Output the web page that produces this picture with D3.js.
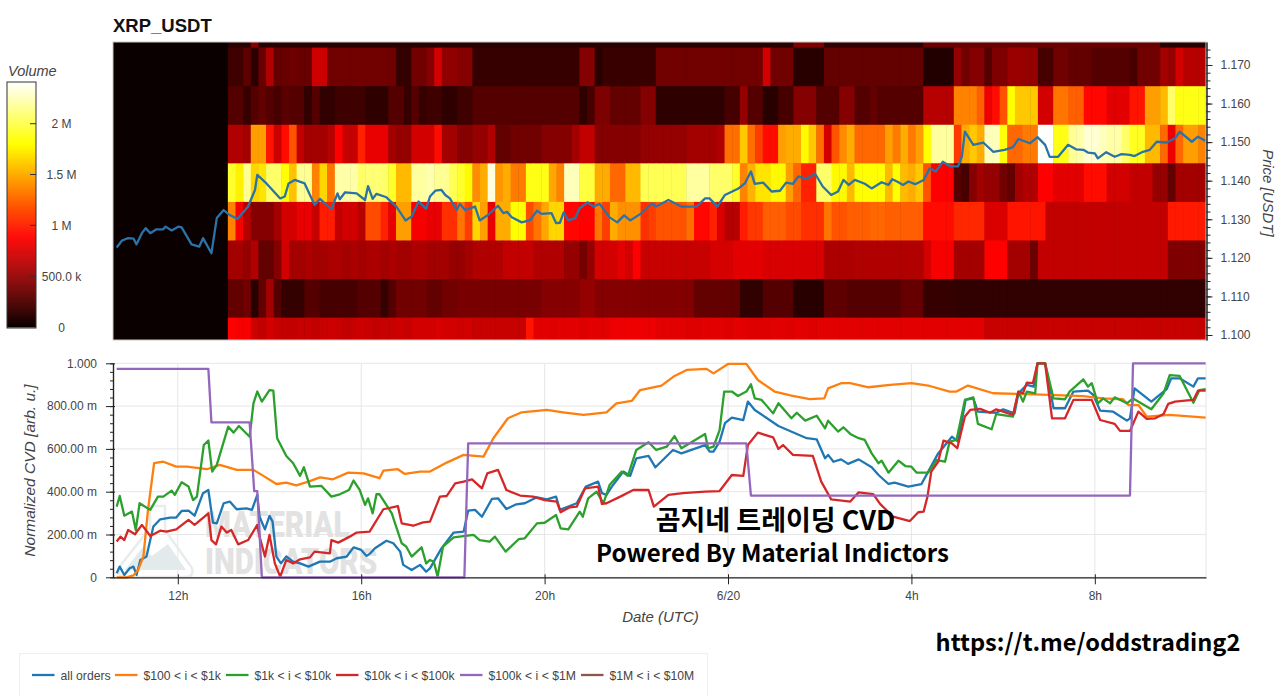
<!DOCTYPE html>
<html>
<head>
<meta charset="utf-8">
<title>XRP_USDT CVD</title>
<script src="https://cdn.jsdelivr.net/npm/d3@7"></script>
<style>
  html, body { margin: 0; padding: 0; background: #fff; overflow: hidden; }
  text { font-family: "Liberation Sans", Arial, sans-serif; }
</style>
</head>
<body>
<svg id="chart" width="1280" height="696"></svg>
<script>
// Series samples are [minutes after 6/19 10:40 UTC, value].
const priceLine = [[0,1.1227],[7,1.1245],[15,1.1251],[22,1.125],[26,1.1235],[33,1.1264],[38,1.1277],[44,1.1264],[52,1.1274],[61,1.1274],[64,1.1281],[72,1.1271],[81,1.1281],[85,1.1279],[98,1.1235],[108,1.1229],[113,1.1251],[124,1.1212],[131,1.1303],[140,1.1324],[148,1.1311],[158,1.1301],[172,1.1333],[181,1.1376],[184,1.1415],[196,1.1393],[214,1.1354],[220,1.1359],[225,1.1393],[233,1.1402],[246,1.1393],[259,1.1337],[266,1.1353],[281,1.1326],[289,1.1367],[292,1.1352],[299,1.137],[314,1.1367],[325,1.135],[329,1.1386],[335,1.1353],[340,1.1366],[353,1.1357],[366,1.1333],[378,1.1297],[386,1.1307],[395,1.1346],[405,1.1327],[410,1.1359],[417,1.1374],[425,1.1376],[430,1.1363],[436,1.1354],[445,1.1324],[449,1.134],[456,1.1324],[469,1.1333],[475,1.1297],[486,1.1311],[499,1.1335],[506,1.1316],[511,1.1319],[517,1.1305],[530,1.1292],[541,1.1298],[550,1.1322],[556,1.1314],[569,1.1316],[575,1.129],[580,1.1291],[585,1.1318],[591,1.1297],[600,1.1303],[606,1.1329],[616,1.1344],[624,1.1333],[632,1.134],[645,1.1305],[655,1.1292],[664,1.131],[672,1.1297],[687,1.1316],[700,1.1341],[706,1.1333],[722,1.135],[739,1.1333],[759,1.1333],[770,1.1354],[776,1.1354],[786,1.1333],[796,1.1363],[813,1.1379],[822,1.1393],[830,1.1424],[835,1.1392],[846,1.1395],[857,1.1372],[868,1.1374],[876,1.1395],[885,1.1392],[892,1.1411],[903,1.1405],[914,1.1418],[924,1.1385],[935,1.1363],[944,1.1372],[951,1.1402],[958,1.1389],[966,1.1402],[979,1.1392],[988,1.138],[1001,1.1396],[1010,1.1389],[1015,1.1404],[1023,1.1396],[1029,1.1389],[1036,1.1398],[1045,1.1391],[1056,1.1402],[1064,1.1432],[1072,1.1424],[1081,1.1449],[1090,1.1438],[1101,1.1437],[1106,1.1462],[1110,1.1527],[1121,1.1493],[1134,1.1499],[1147,1.1475],[1162,1.148],[1173,1.1487],[1180,1.1508],[1195,1.1497],[1205,1.1513],[1215,1.1493],[1221,1.1462],[1232,1.1462],[1245,1.1493],[1256,1.1481],[1265,1.148],[1271,1.1473],[1280,1.1471],[1284,1.1458],[1295,1.1474],[1306,1.1462],[1315,1.1469],[1326,1.1467],[1332,1.1464],[1343,1.1475],[1352,1.148],[1361,1.1501],[1374,1.1499],[1385,1.151],[1391,1.1527],[1407,1.1501],[1415,1.1514],[1425,1.1503]];

const allOrders = [[0,.019],[4,.05],[10,.011],[17,.042],[22,.05],[26,.011],[31,.081],[39,.097],[48,.237],[57,.271],[70,.279],[78,.279],[85,.31],[94,.312],[102,.288],[113,.393],[120,.408],[126,.255],[131,.252],[140,.346],[148,.354],[157,.318],[170,.322],[177,.315],[184,.385],[187,.283],[194,.224],[200,.287],[204,.26],[209,.097],[215,.065],[222,.097],[231,.073],[240,.065],[251,.05],[266,.073],[279,.073],[288,.089],[301,.097],[310,.14],[320,.128],[327,.1],[331,.109],[338,.136],[353,.171],[362,.159],[371,.12],[375,.058],[386,.034],[397,.058],[405,.026],[410,.042],[425,.135],[441,.209],[454,.213],[460,.312],[469,.315],[478,.283],[491,.366],[499,.369],[510,.319],[523,.341],[534,.346],[550,.374],[563,.364],[575,.377],[580,.315],[602,.346],[614,.424],[630,.447],[635,.393],[641,.385],[648,.424],[663,.494],[672,.474],[680,.556],[696,.567],[705,.514],[728,.595],[739,.579],[770,.618],[776,.587],[781,.587],[789,.634],[796,.72],[805,.746],[820,.735],[826,.821],[835,.782],[866,.707],[903,.65],[916,.645],[927,.556],[931,.572],[938,.54],[948,.551],[957,.53],[971,.551],[988,.514],[997,.478],[1010,.436],[1018,.442],[1036,.424],[1053,.435],[1062,.494],[1075,.579],[1093,.657],[1101,.634],[1111,.829],[1121,.836],[1127,.774],[1151,.769],[1160,.785],[1175,.766],[1180,.86],[1191,.899],[1200,.891],[1205,1],[1215,1],[1226,.79],[1241,.79],[1252,.868],[1271,.872],[1278,.852],[1287,.779],[1304,.774],[1322,.732],[1326,.743],[1332,.883],[1354,.821],[1374,.879],[1380,.93],[1391,.93],[1409,.891],[1415,.93],[1425,.93]];

const band100to1k = [[0,0],[13,0],[22,.009],[28,.034],[35,.097],[41,.315],[49,.533],[61,.54],[78,.517],[92,.517],[118,.505],[135,.525],[157,.502],[179,.502],[192,.474],[209,.436],[222,.442],[235,.43],[251,.447],[266,.467],[283,.458],[303,.489],[323,.486],[344,.463],[349,.498],[368,.505],[377,.483],[397,.494],[410,.494],[432,.536],[454,.572],[480,.564],[493,.65],[512,.743],[530,.771],[563,.782],[584,.771],[611,.759],[641,.771],[654,.813],[674,.824],[685,.875],[713,.896],[730,.941],[746,.969],[772,.974],[781,.953],[800,.997],[824,.997],[839,.922],[861,.868],[883,.849],[907,.833],[926,.836],[931,.883],[948,.907],[960,.907],[984,.888],[1012,.899],[1040,.907],[1064,.894],[1090,.868],[1099,.868],[1114,.896],[1147,.86],[1178,.857],[1221,.852],[1265,.847],[1291,.836],[1317,.832],[1324,.805],[1337,.805],[1348,.751],[1378,.759],[1425,.746]];

const band1kto10k = [[0,.33],[4,.38],[10,.288],[20,.307],[25,.221],[30,.346],[44,.315],[54,.377],[61,.377],[72,.405],[76,.385],[85,.444],[94,.424],[100,.361],[105,.377],[114,.618],[120,.639],[125,.494],[131,.525],[146,.704],[153,.676],[160,.707],[174,.657],[179,.813],[184,.868],[190,.821],[200,.875],[205,.872],[210,.65],[222,.567],[231,.533],[240,.474],[245,.514],[253,.424],[268,.427],[281,.377],[292,.388],[304,.408],[310,.452],[318,.408],[325,.338],[329,.369],[335,.299],[340,.388],[344,.388],[360,.299],[373,.159],[379,.143],[386,.097],[399,.14],[405,.065],[410,.081],[415,.073],[420,.003],[427,.143],[441,.187],[467,.198],[475,.174],[488,.167],[495,.19],[509,.12],[526,.178],[534,.182],[550,.252],[560,.255],[575,.291],[581,.229],[591,.224],[606,.307],[610,.283],[617,.369],[628,.4],[637,.346],[645,.431],[661,.494],[669,.474],[680,.595],[696,.631],[706,.595],[720,.611],[730,.66],[739,.603],[750,.626],[770,.67],[774,.603],[781,.611],[789,.688],[795,.868],[805,.868],[813,.847],[824,.868],[830,.902],[835,.836],[844,.829],[859,.766],[866,.813],[883,.743],[890,.769],[901,.732],[916,.755],[927,.696],[931,.732],[944,.681],[951,.701],[960,.67],[971,.65],[979,.642],[988,.579],[997,.533],[1001,.545],[1010,.489],[1023,.545],[1032,.52],[1040,.517],[1047,.489],[1062,.489],[1073,.548],[1084,.54],[1090,.634],[1099,.642],[1110,.829],[1121,.841],[1127,.717],[1145,.692],[1151,.763],[1173,.751],[1180,.868],[1186,.821],[1191,.868],[1202,.86],[1205,1],[1215,1],[1226,.836],[1241,.832],[1247,.868],[1265,.925],[1271,.891],[1276,.907],[1284,.813],[1291,.836],[1300,.813],[1306,.841],[1322,.813],[1330,.836],[1354,.785],[1370,.86],[1378,.945],[1391,.941],[1409,.816],[1417,.875],[1425,.879]];

const band10kto100k = [[0,.167],[5,.19],[10,.174],[15,.221],[24,.201],[33,.245],[44,.193],[57,.218],[65,.213],[78,.224],[94,.268],[102,.245],[120,.299],[124,.174],[130,.154],[137,.237],[144,.209],[150,.221],[159,.154],[172,.174],[184,.245],[187,.19],[194,.097],[200,.198],[207,.065],[214,.003],[222,.081],[231,.065],[240,.084],[253,.093],[259,.12],[279,.112],[281,.174],[290,.162],[305,.19],[314,.209],[331,.213],[349,.318],[368,.333],[373,.252],[388,.241],[401,.257],[410,.26],[423,.377],[432,.38],[443,.439],[454,.447],[465,.458],[478,.416],[485,.486],[499,.502],[510,.408],[528,.382],[545,.377],[560,.361],[576,.354],[581,.304],[593,.327],[602,.33],[613,.416],[630,.424],[635,.343],[641,.346],[659,.377],[676,.408],[696,.408],[703,.33],[722,.385],[741,.393],[770,.4],[789,.403],[805,.478],[820,.474],[826,.618],[839,.676],[859,.654],[866,.6],[872,.618],[885,.572],[911,.567],[922,.447],[935,.364],[960,.354],[971,.397],[990,.389],[999,.343],[1016,.283],[1038,.263],[1049,.304],[1056,.307],[1061,.377],[1066,.494],[1075,.54],[1082,.639],[1093,.626],[1100,.603],[1110,.751],[1117,.782],[1130,.787],[1143,.769],[1151,.785],[1173,.759],[1180,.868],[1186,.86],[1191,.91],[1199,.907],[1205,1],[1215,1],[1224,.743],[1241,.743],[1252,.829],[1276,.829],[1287,.735],[1306,.717],[1313,.684],[1326,.684],[1337,.774],[1348,.74],[1359,.743],[1370,.763],[1376,.81],[1385,.821],[1398,.826],[1409,.829],[1415,.872],[1425,.872]];

const band100kto1M = [[0,.974],[120,.974],[124,.724],[174,.724],[180,.403],[184,.403],[190,0],[455,0],[460,.626],[824,.626],[830,.382],[1326,.382],[1330,1],[1425,1]];

const band1Mto10M = [];

const seriesNames = ["all orders", "$100 < i < $1k", "$1k < i < $10k", "$10k < i < $100k", "$100k < i < $1M", "$1M < i < $10M"];
const seriesColors = ["#1f77b4", "#ff7f0e", "#2ca02c", "#d62728", "#9467bd", "#8c564b"];
const seriesData = [allOrders, band100to1k, band1kto10k, band10kto100k, band100kto1M, band1Mto10M];

// Volume per price band, in tens of thousands, one entry per 10-minute bucket.
const priceBands = [1.18, 1.17, 1.16, 1.15, 1.14, 1.13, 1.12, 1.11, 1.10];
const heatBand118 = [12,12,12,44,12,12,12,12,12,12,12,12,12,12,12,12,12,12,12,12,12,12,12,12,12,12,12,12,12,12,12,12,12,12,12,12,12,12,12,12,12,12,12,12,12,12,12,12,12,12,12,12,12,12,12,12,12,12,12,12,12,12,12,12,12,12,12,12,12,12,12,12,12,12,42,42,42,42,14,14,14,14,14,14,14,14,14,14,14,14,14,35,35,35,35,35,35,35,35,35,35,35,35,35,35,35,35,35,35,35,35,35,35,35,35,35,35,35,35,35,35,35,12,12,12,12,12,12];
const heatBand117 = [19,19,30,12,35,60,32,34,36,34,34,70,70,37,37,37,37,37,37,37,37,37,15,15,37,37,44,72,48,48,44,44,16,16,16,16,16,16,16,16,16,16,16,16,16,16,44,44,11,17,17,17,17,17,17,17,37,37,37,37,37,37,37,37,37,37,37,37,37,37,72,37,37,37,11,11,11,11,32,32,32,32,32,32,32,32,32,32,32,32,32,9,9,9,9,50,37,44,44,27,42,42,52,52,50,50,22,22,37,37,32,32,32,27,27,27,27,27,22,37,37,37,55,50,72,62,62,62];
const heatBand116 = [27,27,16,27,32,27,22,29,27,27,14,27,14,14,19,19,19,19,13,13,13,27,27,16,27,16,19,19,13,13,19,19,27,27,27,27,27,27,27,27,27,27,27,27,27,27,13,22,42,42,32,32,32,32,44,44,13,13,13,13,13,13,13,13,13,22,22,50,27,27,11,11,22,22,44,44,44,27,27,27,44,44,27,27,32,27,27,27,27,27,27,62,62,62,62,135,135,135,122,82,92,118,180,160,160,160,72,72,130,130,122,122,90,90,90,78,78,78,95,95,145,145,155,205,185,185,185,185];
const heatBand115 = [60,60,55,145,145,95,70,92,118,66,55,55,55,62,88,68,68,100,80,80,80,55,50,50,72,72,72,92,55,55,44,44,50,50,60,32,32,37,37,37,37,44,44,44,44,55,66,66,44,44,44,44,44,44,50,50,50,50,50,50,55,55,55,55,60,128,128,160,128,110,92,92,145,150,150,178,160,128,72,118,138,150,125,125,125,125,145,132,150,132,145,180,218,218,218,108,150,160,150,225,225,182,125,125,132,132,240,240,185,185,215,220,230,230,225,220,220,205,188,188,155,155,125,82,125,145,145,135];
const heatBand114 = [190,175,215,165,170,205,205,180,158,215,215,135,165,130,220,220,220,205,208,208,205,190,155,155,218,218,222,215,215,200,190,178,138,150,233,142,150,132,132,185,185,185,148,135,225,225,195,195,150,150,125,125,155,155,200,200,200,200,200,200,218,218,218,205,205,205,190,135,152,170,170,178,178,145,125,100,100,205,205,178,178,155,180,180,180,180,155,180,155,150,160,118,88,88,88,28,22,44,55,50,50,37,32,55,60,60,88,88,78,78,78,78,92,92,92,72,72,72,66,66,66,50,50,32,55,55,55,55];
const heatBand113 = [135,85,62,44,44,44,55,72,72,80,80,68,98,98,66,72,72,62,115,115,100,80,145,145,85,85,80,80,105,105,130,110,165,145,80,150,150,180,180,115,130,148,165,165,90,90,88,88,130,110,150,140,140,140,105,110,118,118,118,118,128,90,90,100,75,62,62,98,108,108,122,122,122,115,115,105,105,105,130,118,118,122,122,122,125,125,122,122,122,122,122,92,92,92,92,102,102,102,102,75,75,75,95,95,95,95,95,66,66,66,66,66,66,66,66,66,66,66,66,66,66,66,66,97,97,97,97,97];
const heatBand112 = [55,55,50,60,32,32,44,72,55,55,58,55,55,58,58,55,58,55,58,58,55,58,55,55,58,58,55,55,55,50,50,55,60,60,60,60,66,66,66,66,60,60,60,60,50,50,38,50,72,72,72,78,72,88,68,68,68,68,68,68,68,68,68,73,73,73,78,78,78,78,74,74,74,74,74,74,74,74,58,58,58,58,60,60,60,60,60,60,60,60,60,72,85,85,85,55,55,55,55,88,88,88,55,55,55,35,66,66,66,66,66,66,66,66,66,66,66,66,66,66,66,66,66,42,42,42,42,42];
const heatBand111 = [32,32,37,11,32,55,27,15,15,15,27,27,22,22,22,22,22,27,27,27,15,27,37,37,37,37,32,32,37,37,40,40,40,40,40,40,40,40,40,40,40,44,44,44,44,44,50,50,44,44,44,44,44,43,43,43,43,43,43,43,43,32,32,32,32,32,32,14,14,14,27,27,27,27,11,11,11,11,30,30,30,27,27,27,27,27,27,27,33,33,33,16,16,16,16,14,14,14,14,14,14,14,14,14,14,14,14,14,14,14,14,14,14,14,14,14,14,14,14,14,14,14,14,14,14,14,14,14];
const heatBand110 = [88,85,85,70,66,72,68,66,66,68,68,66,68,70,68,66,68,70,68,66,68,68,70,68,72,72,72,74,72,72,70,72,68,68,68,68,68,68,68,95,78,78,76,78,78,78,76,78,78,78,82,82,82,82,82,82,78,78,78,78,76,76,78,78,78,76,78,78,76,76,76,78,78,76,78,78,76,78,78,78,78,78,78,78,78,78,78,78,78,78,78,78,78,78,78,78,78,78,78,68,68,68,68,68,68,68,68,68,68,68,68,68,68,68,68,68,68,68,68,68,68,68,68,68,68,68,68,68];
const heatRows = [heatBand118, heatBand117, heatBand116, heatBand115, heatBand114, heatBand113, heatBand112, heatBand111, heatBand110];
const heatUnit = 10000;
const heatStartMinute = 145.5;
const heatStepMinutes = 10;

const priceTicks = [1.10, 1.11, 1.12, 1.13, 1.14, 1.15, 1.16, 1.17];
const priceLabels = ["1.100", "1.110", "1.120", "1.130", "1.140", "1.150", "1.160", "1.170"];
const cvdTicks = [0, .2, .4, .6, .8, 1];
const cvdLabels = ["0", "200.00 m", "400.00 m", "600.00 m", "800.00 m", "1.000"];
const timeTicksMinutes = [80, 320, 560, 800, 1040, 1280];
const timeLabels = ["12h", "16h", "20h", "6/20", "4h", "8h"];
const volumeTicks = [0, 500000, 1000000, 1500000, 2000000];
const volumeLabels = ["0", "500.0 k", "1 M", "1.5 M", "2 M"];

const svg = d3.select("#chart");
const INK = "#444";
const originUTC = Date.UTC(2025, 5, 19, 10, 40);
const toDate = m => new Date(originUTC + m * 60000);

const left = 113, right = 1206;
const x = d3.scaleUtc().domain([toDate(-4.8), toDate(1425.5)]).range([left, right]);
const yPrice = d3.scaleLinear().domain([1.0987, 1.17596]).range([340, 42]);
const yCvd = d3.scaleLinear().domain([0, 1]).range([577.3, 363.3]);

// Black through red and yellow to white, spanning the full volume range.
const volumeMax = 2410000;
const hot = d3.scaleLinear()
  .domain([0, .365 * volumeMax, .746 * volumeMax, volumeMax])
  .range(["#0a0000", "#ff0000", "#ffff00", "#ffffff"])
  .clamp(true);

// A band's label price sits half a mill above the middle of its cell.
const bandUpper = 0.0045, bandLower = 0.0055;

// ---- title ----
svg.append("text").attr("x", left).attr("y", 32)
  .attr("font-size", 18.5).attr("font-weight", "bold").attr("fill", "#111").text("XRP_USDT");

// ---- heatmap panel ----
const clip = svg.append("defs").append("clipPath").attr("id", "heat-clip");
clip.append("rect").attr("x", left).attr("y", 42).attr("width", right - left).attr("height", 298);
const heatPanel = svg.append("g").attr("clip-path", "url(#heat-clip)");
heatPanel.append("rect").attr("x", left).attr("y", 42).attr("width", right - left).attr("height", 298).attr("fill", hot(0));

heatRows.forEach((row, r) => {
  const yTop = yPrice(priceBands[r] + bandUpper);
  const yBottom = yPrice(priceBands[r] - bandLower);
  heatPanel.append("g").selectAll("rect").data(row).join("rect")
    .attr("x", (d, i) => x(toDate(heatStartMinute + i * heatStepMinutes)))
    .attr("width", (d, i) => x(toDate(heatStartMinute + (i + 1) * heatStepMinutes)) - x(toDate(heatStartMinute + i * heatStepMinutes)) + 0.5)
    .attr("y", yTop)
    .attr("height", yBottom - yTop + 0.5)
    .attr("fill", d => hot(d * heatUnit));
});

const lineOf = y => d3.line().x(d => x(toDate(d[0]))).y(d => y(d[1]));

heatPanel.append("path").datum(priceLine)
  .attr("d", lineOf(yPrice)).attr("fill", "none").attr("stroke", "#2a73a8")
  .attr("stroke-width", 2.3).attr("stroke-linejoin", "round");

svg.append("rect").attr("x", left).attr("y", 42).attr("width", right - left).attr("height", 298)
  .attr("fill", "none").attr("stroke", "#c8c8c8").attr("stroke-width", 1);

// price axis, on the right
const priceMinor = d3.range(1.1, 1.1755, 0.002);
const priceAxis = svg.append("g").attr("transform", `translate(${right + 0.5},0)`);
priceAxis.call(d3.axisRight(yPrice).tickValues(priceMinor).tickSize(4).tickSizeOuter(0).tickFormat(""));
priceAxis.append("g").call(d3.axisRight(yPrice).tickValues(priceTicks).tickSize(6).tickSizeOuter(0).tickPadding(8)
  .tickFormat((d, i) => priceLabels[i]));
priceAxis.selectAll("text").attr("font-size", 12).style("fill", INK).style("font-family", '"Liberation Sans"');
priceAxis.selectAll("line").attr("stroke", "#222");
priceAxis.selectAll(".domain").attr("stroke", "#222");

svg.append("text").attr("transform", "translate(1263,193) rotate(90)")
  .attr("text-anchor", "middle").attr("font-size", 15).attr("font-style", "italic").attr("fill", INK)
  .text("Price [USDT]");

// ---- colour bar ----
const barTop = 82, barBottom = 328, barLeft = 7, barRight = 36;
const yVolume = d3.scaleLinear().domain([0, volumeMax]).range([barBottom - 1, barTop]);
const barSteps = d3.range(0, volumeMax, volumeMax / 246);
svg.append("g").selectAll("rect").data(barSteps).join("rect")
  .attr("x", barLeft).attr("width", barRight - barLeft)
  .attr("y", d => yVolume(d) - 1).attr("height", 1.5)
  .attr("fill", d => hot(d));
svg.append("rect").attr("x", barLeft).attr("y", barTop).attr("width", barRight - barLeft)
  .attr("height", barBottom - barTop).attr("fill", "none").attr("stroke", "#333");
svg.append("g").selectAll("line").data(volumeTicks.slice(1)).join("line")
  .attr("x1", barRight - 6).attr("x2", barRight)
  .attr("y1", d => yVolume(d)).attr("y2", d => yVolume(d)).attr("stroke", "#333");
svg.append("g").selectAll("text").data(volumeTicks).join("text")
  .attr("x", 61.5).attr("y", d => yVolume(d) + 4.5)
  .attr("text-anchor", "middle").attr("font-size", 12).attr("fill", INK)
  .text((d, i) => volumeLabels[i]);
svg.append("text").attr("x", 8).attr("y", 76).attr("font-size", 14.5).attr("font-style", "italic")
  .attr("fill", INK).text("Volume");

// ---- CVD panel ----
const grid = svg.append("g");
grid.selectAll("line.h").data(cvdTicks).join("line")
  .attr("x1", left).attr("x2", right).attr("y1", d => yCvd(d)).attr("y2", d => yCvd(d))
  .attr("stroke", "#e6e6e6");
grid.selectAll("line.v").data(timeTicksMinutes).join("line")
  .attr("x1", d => x(toDate(d))).attr("x2", d => x(toDate(d)))
  .attr("y1", yCvd(1)).attr("y2", yCvd(0)).attr("stroke", "#e6e6e6");
grid.append("line").attr("x1", right).attr("x2", right).attr("y1", yCvd(1)).attr("y2", yCvd(0)).attr("stroke", "#e6e6e6");

// brand mark behind the lines
const mark = svg.append("g");
mark.append("path")
  .attr("d", "M150 506 L165 506 L165 530 L192 568 Q194 577 186 577 L126 577 Q116 577 120 566 L150 528 Z")
  .attr("fill", "none").attr("stroke", "#e9ecec").attr("stroke-width", 2.5);
mark.append("path")
  .attr("d", "M125 570 L142 548 L152 556 L168 544 L186 570 Z").attr("fill", "#e3eaec");
mark.append("text").attr("transform", "translate(205,537) scale(0.8,1)")
  .style("font-family", "Roboto").attr("font-weight", 900).attr("font-size", 37).attr("fill", "#e2e2e2").text("MATERIAL");
mark.append("text").attr("transform", "translate(205,574) scale(0.8,1)")
  .style("font-family", "Roboto").attr("font-weight", 900).attr("font-size", 37).attr("fill", "#e2e2e2").text("INDICATORS");

const linesG = svg.append("g");
seriesData.forEach((values, i) => {
  if (!values.length) return;
  linesG.append("path").datum(values)
    .attr("d", lineOf(yCvd)).attr("fill", "none").attr("stroke", seriesColors[i])
    .attr("stroke-width", 2.3).attr("stroke-linejoin", "round");
});

// left axis with four minor divisions between labels
const cvdMinor = d3.range(0, 1.0001, 0.04);
const cvdAxis = svg.append("g").attr("transform", `translate(${left},0)`);
cvdAxis.call(d3.axisLeft(yCvd).tickValues(cvdMinor).tickSize(3).tickSizeOuter(0).tickFormat(""));
cvdAxis.selectAll(".tick line").attr("x1", 1).attr("x2", -3);
const cvdMajor = cvdAxis.append("g").call(d3.axisLeft(yCvd).tickValues(cvdTicks).tickSize(7).tickSizeOuter(0).tickPadding(9)
  .tickFormat((d, i) => cvdLabels[i]));
cvdMajor.selectAll(".tick line").attr("x1", 2).attr("x2", -7);
cvdAxis.selectAll("text").attr("font-size", 12).style("fill", INK).style("font-family", '"Liberation Sans"');
cvdAxis.selectAll("line").attr("stroke", "#222");
cvdAxis.selectAll(".domain").attr("stroke", "#222").attr("stroke-width", 1.2);

const timeAxis = svg.append("g").attr("transform", `translate(0,${yCvd(0)})`);
timeAxis.call(d3.axisBottom(x).tickValues(timeTicksMinutes.map(toDate)).tickSize(7).tickSizeOuter(0).tickPadding(7)
  .tickFormat((d, i) => timeLabels[i]));
timeAxis.selectAll(".tick line").attr("y1", -3).attr("y2", 7).attr("stroke", "#222");
timeAxis.selectAll("text").attr("font-size", 12).style("fill", INK).style("font-family", '"Liberation Sans"');
timeAxis.selectAll(".domain").attr("stroke", "#222").attr("stroke-width", 1.2);

svg.append("text").attr("x", 660.5).attr("y", 622).attr("text-anchor", "middle")
  .attr("font-size", 15).attr("font-style", "italic").attr("fill", INK).text("Date (UTC)");
svg.append("text").attr("transform", "translate(35,470.5) rotate(-90)").attr("text-anchor", "middle")
  .attr("font-size", 15.5).attr("font-style", "italic").attr("fill", INK).text("Normalized CVD [arb. u.]");

// ---- captions ----
const captionFont = '"Noto Sans CJK KR", "Noto Sans", sans-serif';
const caption = (cx, cy, size, label) => svg.append("text").attr("x", cx).attr("y", cy).attr("text-anchor", "middle")
  .style("font-family", captionFont).attr("font-weight", 700).attr("font-size", size).attr("fill", "#000").text(label);
caption(775.5, 530, 27, "곰지네 트레이딩 CVD");
caption(772.5, 562, 24, "Powered By Material Indictors");
caption(1088, 651, 23.6, "https://t.me/oddstrading2");

// ---- legend ----
const legendBox = svg.append("g");
legendBox.append("rect").attr("x", 19.5).attr("y", 653.5).attr("width", 688).attr("height", 60)
  .attr("fill", "#fff").attr("stroke", "#eeeeee");
const legendSwatchX = [32, 115, 226, 336, 460, 581];
legendBox.selectAll("line").data(seriesNames).join("line")
  .attr("x1", (d, i) => legendSwatchX[i]).attr("x2", (d, i) => legendSwatchX[i] + 22.5)
  .attr("y1", 675).attr("y2", 675)
  .attr("stroke", (d, i) => seriesColors[i]).attr("stroke-width", 2.3);
legendBox.selectAll("text").data(seriesNames).join("text")
  .attr("x", (d, i) => legendSwatchX[i] + 28.5).attr("y", 679.5)
  .attr("font-size", 12.2).attr("fill", INK).text(d => d);
</script>
</body>
</html>
